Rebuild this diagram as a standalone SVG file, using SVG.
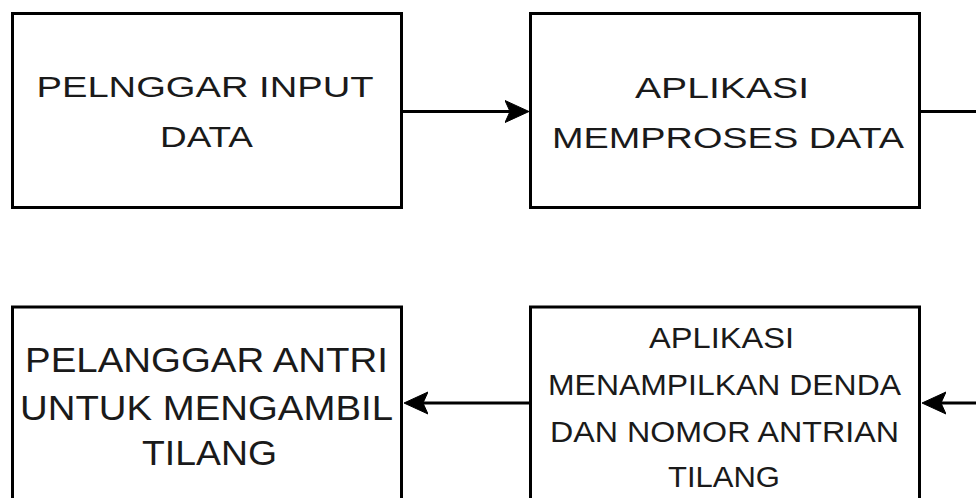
<svg xmlns="http://www.w3.org/2000/svg" width="976" height="498" viewBox="0 0 976 498">
<style>
.box{fill:#fff;stroke:#000;stroke-width:3}
.lbl{font-family:"Liberation Sans",Arial,sans-serif;fill:#1a1a1a;text-anchor:middle}
.edge{fill:none;stroke:#000;stroke-width:3}
</style>
<defs>
<marker id="arr" markerUnits="userSpaceOnUse" markerWidth="26" markerHeight="26" viewBox="0 0 26 26" refX="18" refY="12" orient="auto">
<path d="M0,1 L24,12 L0,23 L5,12 Z" fill="#000" stroke="#000" stroke-width="1" stroke-linejoin="round"/>
</marker>
</defs>
<rect width="976" height="498" fill="#fff"/>
<g id="connectors">
<path class="edge" d="M401.5,111.5 H523" marker-end="url(#arr)"/>
<path class="edge" d="M919.5,111.5 H976"/>
<path class="edge" d="M976,403 H928" marker-end="url(#arr)"/>
<path class="edge" d="M530.5,403 H410" marker-end="url(#arr)"/>
</g>
<g id="node1">
<rect class="box" x="12.5" y="13.5" width="389" height="194"/>
<text class="lbl" font-size="30"><tspan x="205" y="97" textLength="337" lengthAdjust="spacingAndGlyphs">PELNGGAR INPUT</tspan><tspan x="206.5" y="147" textLength="93" lengthAdjust="spacingAndGlyphs">DATA</tspan></text>
</g>
<g id="node2">
<rect class="box" x="530.5" y="13.5" width="389" height="194"/>
<text class="lbl" font-size="30"><tspan x="722" y="98" textLength="174" lengthAdjust="spacingAndGlyphs">APLIKASI</tspan><tspan x="728" y="148" textLength="352" lengthAdjust="spacingAndGlyphs">MEMPROSES DATA</tspan></text>
</g>
<g id="node3">
<rect class="box" x="12.5" y="307" width="389" height="194"/>
<text class="lbl" font-size="35"><tspan x="206.5" y="372" textLength="363" lengthAdjust="spacingAndGlyphs">PELANGGAR ANTRI</tspan><tspan x="206.5" y="420" textLength="373" lengthAdjust="spacingAndGlyphs">UNTUK MENGAMBIL</tspan><tspan x="209.5" y="465" textLength="135" lengthAdjust="spacingAndGlyphs">TILANG</tspan></text>
</g>
<g id="node4">
<rect class="box" x="530.5" y="307" width="389" height="194"/>
<text class="lbl" font-size="29"><tspan x="721.5" y="348" textLength="145" lengthAdjust="spacingAndGlyphs">APLIKASI</tspan><tspan x="724.5" y="395" textLength="353" lengthAdjust="spacingAndGlyphs">MENAMPILKAN DENDA</tspan><tspan x="724.5" y="442" textLength="349" lengthAdjust="spacingAndGlyphs">DAN NOMOR ANTRIAN</tspan><tspan x="724" y="487" textLength="112" lengthAdjust="spacingAndGlyphs">TILANG</tspan></text>
</g>
</svg>
